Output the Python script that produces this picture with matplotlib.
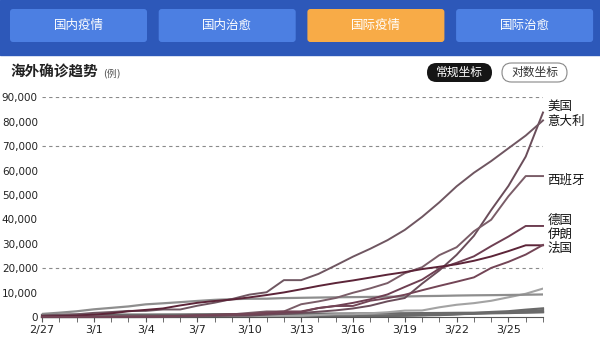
import matplotlib.pyplot as plt
from matplotlib.patches import FancyBboxPatch, Rectangle

plt.rcParams['font.family'] = ['DejaVu Sans', 'Noto Sans CJK SC']

dates = ['2/27', '2/28', '2/29', '3/1', '3/2', '3/3', '3/4', '3/5', '3/6', '3/7',
         '3/8', '3/9', '3/10', '3/11', '3/12', '3/13', '3/14', '3/15', '3/16', '3/17',
         '3/18', '3/19', '3/20', '3/21', '3/22', '3/23', '3/24', '3/25', '3/26', '3/27']

usa = [60, 60, 62, 70, 76, 101, 122, 153, 221, 278, 417, 537, 605, 959, 1281,
       1663, 2179, 2726, 3499, 4632, 6421, 7786, 13680, 19101, 25493, 33276,
       43847, 53740, 65778, 83836]
italy = [650, 888, 1128, 1694, 2036, 2502, 2502, 3089, 3089, 4636, 5883, 7375,
         9172, 10149, 15113, 15113, 17660, 21157, 24747, 27980, 31506, 35713,
         41035, 47021, 53578, 59138, 63927, 69176, 74386, 80589]
spain = [15, 32, 45, 84, 120, 165, 222, 259, 400, 500, 673, 1073, 1695, 2277,
         2277, 5232, 6391, 7798, 9942, 11748, 13910, 17963, 20410, 25374, 28603,
         35136, 39885, 49515, 57786, 57786]
germany = [27, 46, 48, 79, 130, 159, 196, 262, 482, 670, 799, 1040, 1176, 1457,
           1908, 2078, 3675, 4585, 5795, 7272, 9257, 12327, 15320, 19848, 22213,
           24873, 29056, 32986, 37323, 37323]
iran = [245, 388, 593, 978, 1501, 2336, 2922, 3513, 4747, 5823, 6566, 7161, 8042,
        9000, 10075, 11364, 12729, 13938, 14991, 16169, 17361, 18407, 19644,
        20610, 21638, 23049, 24811, 27017, 29406, 29406]
france = [18, 38, 57, 100, 130, 191, 204, 288, 380, 656, 957, 1136, 1219, 1794,
          2293, 2293, 3681, 4496, 4532, 6683, 7715, 9124, 10970, 12758, 14463,
          16243, 20123, 22622, 25600, 29551]

korea = [1261, 1766, 2337, 3150, 3736, 4335, 5186, 5621, 6088, 6593, 7041, 7314,
         7478, 7513, 7755, 7869, 7979, 8086, 8162, 8236, 8320, 8413, 8565, 8652,
         8799, 8897, 8961, 9037, 9137, 9241]
uk = [13, 15, 20, 23, 36, 40, 51, 85, 115, 163, 206, 273, 321, 382, 456, 456, 798,
      1140, 1140, 1543, 1950, 2626, 2689, 3983, 5018, 5683, 6650, 8077, 9529, 11658]
japan = [894, 919, 946, 961, 980, 999, 1004, 1035, 1056, 1113, 1157, 1190, 1212,
         1227, 1286, 1331, 1380, 1413, 1446, 1484, 1518, 1556, 1600, 1640, 1712,
         1744, 1801, 1850, 1914, 1995]
portugal = [0, 0, 0, 0, 0, 2, 4, 6, 9, 13, 21, 30, 30, 41, 59, 78, 112, 169, 245,
            331, 448, 642, 785, 1020, 1280, 1600, 2060, 2362, 2995, 3544]
australia = [22, 23, 23, 25, 27, 30, 39, 52, 55, 60, 63, 76, 91, 107, 128, 128, 200,
             250, 297, 377, 452, 568, 681, 791, 1071, 1549, 1682, 2044, 2364, 2810]
malaysia = [22, 22, 23, 25, 29, 29, 36, 50, 50, 83, 93, 99, 117, 129, 149, 149, 197,
            238, 428, 566, 673, 790, 900, 1030, 1183, 1306, 1518, 1624, 1796, 2031]

main_names = ['美国', '意大利', '西班牙', '德国', '伊朗', '法国']
main_series = [usa, italy, spain, germany, iran, france]
main_colors = ['#6a4d5a', '#6f5661', '#7a5d68', '#6e3f52', '#5c2438', '#734556']
label_shift = [2600, -400, -1500, 2200, 4600, -1500]

tabs = ['国内疫情', '国内治愈', '国际疫情', '国际治愈']

fig = plt.figure(figsize=(6, 3.58), dpi=100)

# header drawn in pixel coordinates
top = fig.add_axes([0, 0, 1, 1])
top.set_xlim(0, 600)
top.set_ylim(358, 0)
top.axis('off')
top.add_patch(Rectangle((0, 0), 600, 55, color='#2d58b9'))
for i, t in enumerate(tabs):
    x0 = 10 + i * 148.7
    fc = '#f8ab47' if i == 2 else '#4c7fe2'
    top.add_patch(FancyBboxPatch((x0, 9), 137, 33, boxstyle='round,pad=0,rounding_size=3',
                                 fc=fc, ec='none'))
    top.text(x0 + 68.5, 25.5, t, color='white', fontsize=9, ha='center', va='center')

top.text(10, 72, '海外确诊趋势', fontsize=10.5, fontweight='bold', color='#222222', va='center')
top.text(103, 73, '(例)', fontsize=7, color='#555555', va='center')

top.add_patch(FancyBboxPatch((427, 63), 65, 19, boxstyle='round,pad=0,rounding_size=9.5',
                             fc='#151515', ec='none'))
top.text(459.5, 72.5, '常规坐标', color='white', fontsize=8.5, ha='center', va='center')
top.add_patch(FancyBboxPatch((502, 63), 65, 19, boxstyle='round,pad=0,rounding_size=9.5',
                             fc='white', ec='#888888', lw=0.8))
top.text(534.5, 72.5, '对数坐标', color='#333333', fontsize=8.5, ha='center', va='center')

ax = fig.add_axes([0.07, 0.1145, 0.835, 0.6132])
ax.set_facecolor('none')
x = list(range(len(dates)))

for yv in [20000, 70000, 90000]:
    ax.axhline(yv, color='#8a8a8a', lw=0.8, ls=(0, (3, 3)), zorder=1)

for s in [japan, portugal, australia, malaysia]:
    ax.plot(x, s, color='#6a6a6a', lw=1.6, zorder=2, clip_on=False)
ax.plot(x, uk, color='#a3a3a3', lw=1.5, zorder=2)
ax.plot(x, korea, color='#8e8e8e', lw=1.6, zorder=2)

for s, c in zip(main_series, main_colors):
    ax.plot(x, s, color=c, lw=1.4, zorder=3, clip_on=False)

for name, s, dy in zip(main_names, main_series, label_shift):
    ax.text(x[-1] + 0.25, s[-1] + dy, name, fontsize=9, va='center', ha='left',
            color='#111111', clip_on=False)

ax.set_xlim(0, len(dates) - 1)
ax.set_ylim(0, 90000)
ax.set_xticks(x[::3])
ax.set_xticklabels(dates[::3], fontsize=8, color='#222222')
ax.set_xticks(x, minor=True)
ax.tick_params(axis='x', which='both', length=3.5, color='#555555', pad=2)
ax.set_yticks(range(0, 90001, 10000))
ax.set_yticklabels(['{:,}'.format(v) for v in range(0, 90001, 10000)],
                   fontsize=7.5, color='#222222')
ax.tick_params(axis='y', length=0, pad=3)
for side in ['top', 'right', 'left']:
    ax.spines[side].set_visible(False)
ax.spines['bottom'].set_color('#555555')

plt.savefig('out.png', dpi=100)
